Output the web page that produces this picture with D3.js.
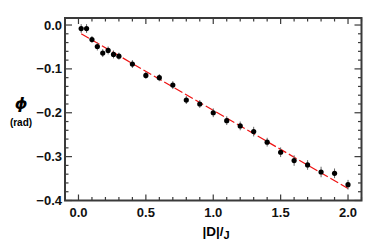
<!DOCTYPE html>
<html lang="en">
<head>
<meta charset="utf-8">
<title>phi vs |D|/J</title>
<script src="https://d3js.org/d3.v7.min.js"></script>
<style>
  body { margin: 0; background: #fff; }
  .tick-label { font-family: "Liberation Sans", Arial, sans-serif; font-weight: bold; font-size: 13px; fill: #111; }
</style>
</head>
<body>
<script>
// measured points
const dOverJ = [0.02, 0.06, 0.10, 0.14, 0.18, 0.22, 0.26, 0.30, 0.40, 0.50, 0.60, 0.70, 0.80,
                0.90, 1.00, 1.10, 1.20, 1.30, 1.40, 1.50, 1.60, 1.70, 1.80, 1.90, 2.00];
const phi = [-0.008, -0.008, -0.033, -0.049, -0.064, -0.058, -0.067, -0.071, -0.089, -0.115, -0.120, -0.137, -0.171,
             -0.180, -0.200, -0.218, -0.230, -0.243, -0.267, -0.290, -0.309, -0.319, -0.335, -0.338, -0.364];
const phiErr = [0.010, 0.010, 0.008, 0.009, 0.009, 0.009, 0.009, 0.008, 0.009, 0.008, 0.008, 0.009, 0.009,
                0.009, 0.010, 0.010, 0.010, 0.011, 0.010, 0.011, 0.012, 0.011, 0.012, 0.011, 0.011];

// linear fit
const fitIntercept = -0.0165;
const fitSlope = -0.178;
const fitRange = [0.02, 2.0];

const xTicks = [0, 0.5, 1, 1.5, 2];
const yTicks = [0, -0.1, -0.2, -0.3, -0.4];

const W = 374, H = 240;
const margin = {top: 18, right: 12.5, bottom: 39.5, left: 65};
const width = W - margin.left - margin.right,
      height = H - margin.top - margin.bottom;

const svg = d3.select("body").append("svg")
    .attr("width", W).attr("height", H);
const g = svg.append("g").attr("transform", `translate(${margin.left},${margin.top})`);

const x = d3.scaleLinear().domain([-0.1, 2.1]).range([0, width]);
const y = d3.scaleLinear().domain([-0.4, 0.016]).range([height, 0]);

const axisColor = "#3a3a3a";

// minor + major ticks, pointing inward on all four sides
const xMinor = d3.range(-0.1, 2.1001, 0.1).map(v => +v.toFixed(2));
const yMinor = d3.range(-0.4, 0.0161, 0.02).map(v => +v.toFixed(2));
const isMajor = (v, list) => list.some(t => Math.abs(t - v) < 1e-6);

xMinor.forEach(v => {
  const len = isMajor(v, xTicks) ? 6 : 3.5;
  g.append("line").attr("x1", x(v)).attr("x2", x(v)).attr("y1", height).attr("y2", height - len)
    .attr("stroke", axisColor).attr("stroke-width", 1.2);
  g.append("line").attr("x1", x(v)).attr("x2", x(v)).attr("y1", 0).attr("y2", len)
    .attr("stroke", axisColor).attr("stroke-width", 1.2);
});
yMinor.forEach(v => {
  const len = isMajor(v, yTicks) ? 7 : 3.5;
  g.append("line").attr("x1", 0).attr("x2", len).attr("y1", y(v)).attr("y2", y(v))
    .attr("stroke", axisColor).attr("stroke-width", 1.2);
  g.append("line").attr("x1", width).attr("x2", width - len).attr("y1", y(v)).attr("y2", y(v))
    .attr("stroke", axisColor).attr("stroke-width", 1.2);
});

// frame
g.append("rect").attr("width", width).attr("height", height)
  .attr("fill", "none").attr("stroke", axisColor).attr("stroke-width", 2);

// tick labels
g.selectAll(".xl").data(xTicks).join("text")
  .attr("class", "tick-label")
  .attr("x", d => x(d)).attr("y", height + 16.5)
  .attr("text-anchor", "middle")
  .text(d => d.toFixed(1));
g.selectAll(".yl").data(yTicks).join("text")
  .attr("class", "tick-label")
  .attr("x", -3).attr("y", d => y(d) + 4.5)
  .attr("text-anchor", "end")
  .text(d => (d < 0 ? "\u2212" : "") + Math.abs(d).toFixed(1));

// fit line
g.append("line")
  .attr("x1", x(fitRange[0])).attr("y1", y(fitIntercept + fitSlope * fitRange[0]))
  .attr("x2", x(fitRange[1])).attr("y2", y(fitIntercept + fitSlope * fitRange[1]))
  .attr("stroke", "#ee1111").attr("stroke-width", 1.2)
  .attr("stroke-dasharray", "9,3");

const pts = dOverJ.map((d, i) => ({x: d, y: phi[i], e: phiErr[i]}));

// error bars
g.selectAll(".err").data(pts).join("line")
  .attr("x1", d => x(d.x)).attr("x2", d => x(d.x))
  .attr("y1", d => y(d.y - d.e)).attr("y2", d => y(d.y + d.e))
  .attr("stroke", "#666").attr("stroke-width", 1);

// markers
g.selectAll(".pt").data(pts).join("circle")
  .attr("cx", d => x(d.x)).attr("cy", d => y(d.y))
  .attr("r", 2.6).attr("fill", "#000");

// y title
svg.append("text")
  .attr("x", 21).attr("y", 109)
  .attr("text-anchor", "middle")
  .style("font-family", "'DejaVu Sans', sans-serif")
  .style("font-weight", "bold").style("font-style", "italic")
  .style("font-size", "16px")
  .text("\u03D5");
svg.append("text")
  .attr("x", 21).attr("y", 126)
  .attr("text-anchor", "middle")
  .style("font-family", "'Liberation Sans', Arial, sans-serif")
  .style("font-weight", "bold").style("font-size", "10px")
  .text("(rad)");

// x title
const xt = svg.append("text")
  .attr("x", 216).attr("y", 236)
  .attr("text-anchor", "middle")
  .style("font-family", "'Liberation Sans', Arial, sans-serif")
  .style("font-weight", "bold").style("font-size", "13.5px");
xt.append("tspan").text("|D|/");
xt.append("tspan").attr("dy", 3).style("font-size", "11px").text("J");
</script>
</body>
</html>
